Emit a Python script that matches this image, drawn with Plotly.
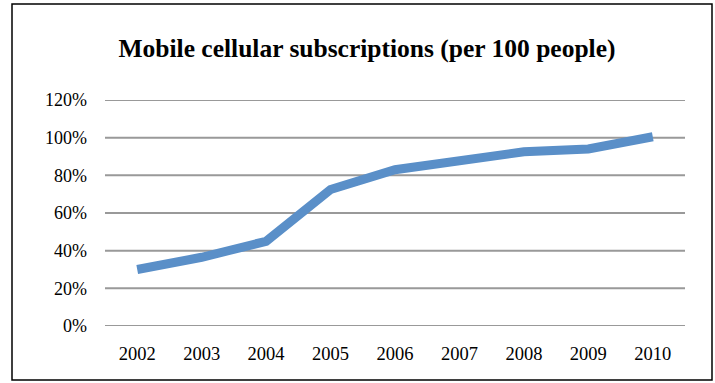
import plotly.graph_objects as go

years = ["2002", "2003", "2004", "2005", "2006", "2007", "2008", "2009", "2010"]
subscriptions = [0.30, 0.365, 0.45, 0.725, 0.83, 0.88, 0.925, 0.94, 1.005]
y_ticks = [0, 0.2, 0.4, 0.6, 0.8, 1.0, 1.2]
y_tick_labels = ["0%", "20%", "40%", "60%", "80%", "100%", "120%"]

W, H = 715, 383
ml, mr, mt, mb = 105, 30, 100, 57
pw, ph = W - ml - mr, H - mt - mb

fig = go.Figure()

for yv in y_ticks:
    fig.add_hline(y=yv, line=dict(color="#999999", width=2), layer="below")

fig.add_trace(go.Scatter(
    x=years, y=subscriptions, mode="lines",
    line=dict(color="#5A8FC8", width=9, shape="linear"),
    hoverinfo="skip", cliponaxis=False,
))

def px_to_paper_x(px):
    return (px - ml) / pw

def px_to_paper_y(py):
    return (H - mb - py) / ph

fig.add_shape(type="rect", xref="paper", yref="paper",
              x0=px_to_paper_x(12), x1=px_to_paper_x(712),
              y0=px_to_paper_y(380), y1=px_to_paper_y(4),
              line=dict(color="black", width=1.5), fillcolor="rgba(0,0,0,0)", layer="below")

fig.update_layout(
    width=W, height=H,
    margin=dict(l=ml, r=mr, t=mt, b=mb, autoexpand=False),
    paper_bgcolor="white", plot_bgcolor="white",
    showlegend=False,
    title=dict(text="<b>Mobile cellular subscriptions (per 100 people)</b>",
               x=367 / W, xanchor="center", y=1 - 48 / H, yanchor="middle",
               font=dict(family="Liberation Serif", size=25.5, color="black")),
    font=dict(family="Liberation Serif", size=18, color="black"),
    xaxis=dict(type="category", range=[-0.5, len(years) - 0.5],
               showgrid=False, showline=False, zeroline=False, ticks="",
               tickfont=dict(size=18.5), ticklabelstandoff=14, automargin=False),
    yaxis=dict(range=[0, 1.2], tickvals=y_ticks, ticktext=y_tick_labels,
               showgrid=False, zeroline=False, showline=False, ticks="",
               tickfont=dict(size=18), ticklabelstandoff=17, automargin=False),
)

fig.write_html("out.html", config={"displayModeBar": False},
               post_script="document.body.style.margin='0px';document.body.style.overflow='hidden';")
